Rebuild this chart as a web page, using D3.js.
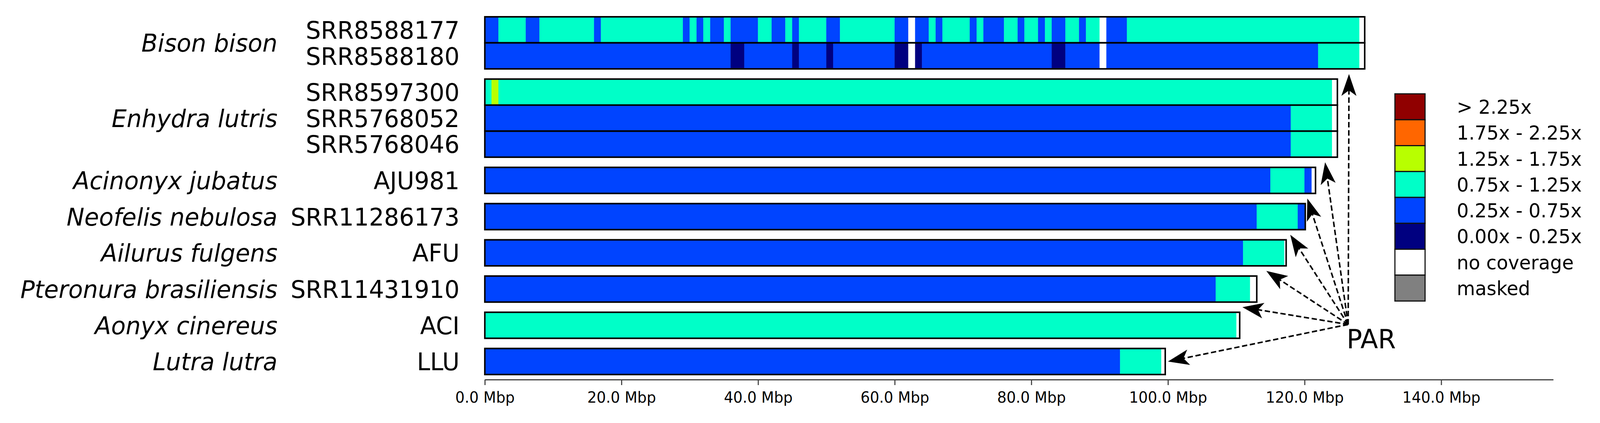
<!DOCTYPE html>
<html lang="en">

<head>

    <meta charset="UTF-8">
    <title>Chromosome X coverage</title>

    <style>

        html, body
        {
            margin: 0;
            padding: 0;
            overflow: hidden;
            background: white;
        }

        svg
        {
            display: block;
            width: 100vw;
            height: 100vh;
        }

        text
        {
            font-family: 'DejaVu Sans', sans-serif;
            fill: black;
        }

        .species-label
        {
            font-style: italic;
            font-size: 63px;
        }

        .sample-label
        {
            font-size: 63px;
        }

        .legend-label
        {
            font-size: 50px;
        }

        .par-label
        {
            font-size: 68px;
        }

        .tick text
        {
            font-size: 39px;
        }

    </style>

</head>

<body>

    <svg viewBox="0 0 4244 1082" preserveAspectRatio="none"></svg>

    <script src="https://d3js.org/d3.v7.min.js"></script>

    <script>

        // Species, one label per group of rows
        const speciesNames = [
            'Bison bison', 'Enhydra lutris', 'Acinonyx jubatus', 'Neofelis nebulosa',
            'Ailurus fulgens', 'Pteronura brasiliensis', 'Aonyx cinereus', 'Lutra lutra'
        ];

        // X chromosome length per species (Mbp)
        const chromLength = [128.8, 124.8, 121.6, 120.1, 117.3, 113.0, 110.5, 99.6];

        // Samples (one row each) and the species they belong to
        const sampleIds = [
            'SRR8588177', 'SRR8588180', 'SRR8597300', 'SRR5768052', 'SRR5768046',
            'AJU981', 'SRR11286173', 'AFU', 'SRR11431910', 'ACI', 'LLU'
        ];
        const sampleSpecies = [0, 0, 1, 1, 1, 2, 3, 4, 5, 6, 7];

        // Coverage classes (legend order) and their colours
        const coverageLevels = [
            '> 2.25x', '1.75x - 2.25x', '1.25x - 1.75x', '0.75x - 1.25x',
            '0.25x - 0.75x', '0.00x - 0.25x', 'no coverage', 'masked'
        ];
        const levelColors = [
            '#900000', '#ff6600', '#b8ff00', '#00ffc8',
            '#0044ff', '#000080', '#ffffff', '#808080'
        ];

        // Coverage segments per sample: [start Mbp, end Mbp, level index]
        const covSRR8588177 = [
            [0, 2, 4], [2, 6, 3], [6, 8, 4], [8, 16, 3], [16, 17, 4], [17, 29, 3],
            [29, 30, 4], [30, 31, 3], [31, 32, 4], [32, 33, 3], [33, 35, 4], [35, 36, 3],
            [36, 40, 4], [40, 42, 3], [42, 44, 4], [44, 45, 3], [45, 46, 4], [46, 50, 3],
            [50, 52, 4], [52, 60, 3], [60, 62, 4], [62, 63, 6], [63, 65, 4], [65, 66, 3],
            [66, 67, 4], [67, 71, 3], [71, 72, 4], [72, 73, 3], [73, 76, 4], [76, 78, 3],
            [78, 79, 4], [79, 81, 3], [81, 82, 4], [82, 83, 3], [83, 85, 4], [85, 87, 3],
            [87, 88, 4], [88, 90, 3], [90, 91, 6], [91, 94, 4], [94, 128, 3]
        ];
        const covSRR8588180 = [
            [0, 36, 4], [36, 38, 5], [38, 45, 4], [45, 46, 5], [46, 50, 4], [50, 51, 5],
            [51, 60, 4], [60, 62, 5], [62, 63, 6], [63, 64, 5], [64, 83, 4], [83, 85, 5],
            [85, 90, 4], [90, 91, 6], [91, 122, 4], [122, 128, 3]
        ];
        const covSRR8597300 = [[0, 1, 3], [1, 2, 2], [2, 124, 3]];
        const covSRR5768052 = [[0, 118, 4], [118, 124, 3]];
        const covSRR5768046 = [[0, 118, 4], [118, 124, 3]];
        const covAJU981 = [[0, 115, 4], [115, 120, 3], [120, 121, 4]];
        const covSRR11286173 = [[0, 113, 4], [113, 119, 3], [119, 120, 4]];
        const covAFU = [[0, 111, 4], [111, 117, 3]];
        const covSRR11431910 = [[0, 107, 4], [107, 112, 3]];
        const covACI = [[0, 110, 3]];
        const covLLU = [[0, 93, 4], [93, 99, 3]];

        const sampleCoverage = [
            covSRR8588177, covSRR8588180, covSRR8597300, covSRR5768052, covSRR5768046,
            covAJU981, covSRR11286173, covAFU, covSRR11431910, covACI, covLLU
        ];

        // Axis ticks (Mbp)
        const tickValues = [0, 20, 40, 60, 80, 100, 120, 140];

        // PAR arrows: species index, position (Mbp), where the tip sits
        const parTargets = [
            { species: 0, mbp: 126.5, at: 'below' },
            { species: 1, mbp: 123.0, at: 'below' },
            { species: 2, mbp: 120.4, at: 'below' },
            { species: 3, mbp: 117.9, at: 'below' },
            { species: 4, mbp: 114.4, at: 'below' },
            { species: 5, mbp: 110.9, at: 'below' },
            { species: 7, mbp: 100.0, at: 'end' }
        ];

        const svg = d3.select('svg');

        // Horizontal scale, Mbp -> px
        const xScale = d3.scaleLinear()
            .domain([0, 156.4])
            .range([1286, 4120]);

        // Vertical layout: each row is one unit, groups separated by a gap
        const gapUnits = 0.391;
        const totalUnits = sampleIds.length + gapUnits * (speciesNames.length - 1);
        const yScale = d3.scaleLinear()
            .domain([0, totalUnits])
            .range([43, 958]);
        const rowH = yScale(1) - yScale(0);

        const rows = sampleIds.map(function (id, i) {
            return {
                id: id,
                species: sampleSpecies[i],
                length: chromLength[sampleSpecies[i]],
                coverage: sampleCoverage[i],
                top: yScale(i + sampleSpecies[i] * gapUnits)
            };
        });

        const groups = speciesNames.map(function (name, s) {
            const members = rows.filter(function (r) { return r.species === s; });
            return {
                name: name,
                top: members[0].top,
                bottom: members[members.length - 1].top + rowH
            };
        });

        // Rows
        const rowG = svg.append('g')
            .selectAll('g')
            .data(rows)
            .enter()
            .append('g')
            .attr('transform', function (d) { return 'translate(0 ' + d.top + ')'; });

        rowG.append('rect')
            .attr('x', xScale(0))
            .attr('width', function (d) { return xScale(d.length) - xScale(0); })
            .attr('height', rowH)
            .attr('fill', 'white');

        rowG.selectAll('rect.seg')
            .data(function (d) { return d.coverage; })
            .enter()
            .append('rect')
            .attr('class', 'seg')
            .attr('x', function (d) { return xScale(d[0]); })
            .attr('width', function (d) { return xScale(d[1]) - xScale(d[0]); })
            .attr('height', rowH)
            .attr('fill', function (d) { return levelColors[d[2]]; })
            .attr('stroke', function (d) { return levelColors[d[2]]; })
            .attr('stroke-width', 0.6);

        rowG.append('rect')
            .attr('x', xScale(0))
            .attr('width', function (d) { return xScale(d.length) - xScale(0); })
            .attr('height', rowH)
            .attr('fill', 'none')
            .attr('stroke', 'black')
            .attr('stroke-width', 4);

        // Sample labels
        rowG.append('text')
            .attr('class', 'sample-label')
            .attr('x', 1219)
            .attr('y', rowH / 2)
            .attr('dy', '0.36em')
            .attr('text-anchor', 'end')
            .text(function (d) { return d.id; });

        // Species labels
        svg.append('g')
            .selectAll('text')
            .data(groups)
            .enter()
            .append('text')
            .attr('class', 'species-label')
            .attr('x', 736)
            .attr('y', function (d) { return (d.top + d.bottom) / 2; })
            .attr('dy', '0.36em')
            .attr('text-anchor', 'end')
            .text(function (d) { return d.name; });

        // x axis
        const xAxis = d3.axisBottom(xScale)
            .tickValues(tickValues)
            .tickFormat(function (d) { return d3.format('.1f')(d) + ' Mbp'; })
            .tickSize(14)
            .tickSizeOuter(0)
            .tickPadding(17);

        const xAxisG = svg.append('g')
            .attr('transform', 'translate(0 971)')
            .call(xAxis);

        xAxisG.select('.domain')
            .attr('stroke', '#444')
            .attr('stroke-width', 3);

        xAxisG.selectAll('.tick line')
            .attr('stroke', '#444')
            .attr('stroke-width', 3);

        xAxisG.selectAll('.tick text')
            .attr('fill', 'black');

        // Legend
        const legendY = d3.scaleBand()
            .domain(coverageLevels)
            .range([240, 770]);

        const legendG = svg.append('g');

        legendG.selectAll('rect')
            .data(coverageLevels)
            .enter()
            .append('rect')
            .attr('x', 3700)
            .attr('y', function (d) { return legendY(d); })
            .attr('width', 80)
            .attr('height', legendY.bandwidth())
            .attr('fill', function (d, i) { return levelColors[i]; })
            .attr('stroke', '#111')
            .attr('stroke-width', 3);

        legendG.selectAll('text')
            .data(coverageLevels)
            .enter()
            .append('text')
            .attr('class', 'legend-label')
            .attr('x', 3864)
            .attr('y', function (d) { return legendY(d) + legendY.bandwidth() / 2; })
            .attr('dy', '0.36em')
            .text(function (d) { return d; });

        // PAR annotation with dashed arrows
        const parOrigin = [3576, 830];

        svg.append('text')
            .attr('class', 'par-label')
            .attr('x', 3572)
            .attr('y', 891)
            .text('PAR');

        const arrowG = svg.append('g');

        parTargets.forEach(function (t) {
            const g = groups[t.species];
            const tip = t.at === 'end'
                ? [xScale(t.mbp), (g.top + g.bottom) / 2]
                : [xScale(t.mbp), g.bottom + 13];

            const dx = tip[0] - parOrigin[0];
            const dy = tip[1] - parOrigin[1];
            const len = Math.sqrt(dx * dx + dy * dy);
            const ux = dx / len, uy = dy / len;
            const vx = -uy, vy = ux;
            const headL = 56, headW = 20;

            arrowG.append('line')
                .attr('x1', parOrigin[0])
                .attr('y1', parOrigin[1])
                .attr('x2', tip[0] - ux * headL * 0.7)
                .attr('y2', tip[1] - uy * headL * 0.7)
                .attr('stroke', 'black')
                .attr('stroke-width', 4)
                .attr('stroke-dasharray', '14 7');

            const head = [
                [tip[0], tip[1]],
                [tip[0] - ux * headL + vx * headW, tip[1] - uy * headL + vy * headW],
                [tip[0] - ux * headL * 0.75, tip[1] - uy * headL * 0.75],
                [tip[0] - ux * headL - vx * headW, tip[1] - uy * headL - vy * headW]
            ];

            arrowG.append('path')
                .attr('d', d3.line()(head) + 'Z')
                .attr('fill', 'black');
        });

    </script>

</body>

</html>
